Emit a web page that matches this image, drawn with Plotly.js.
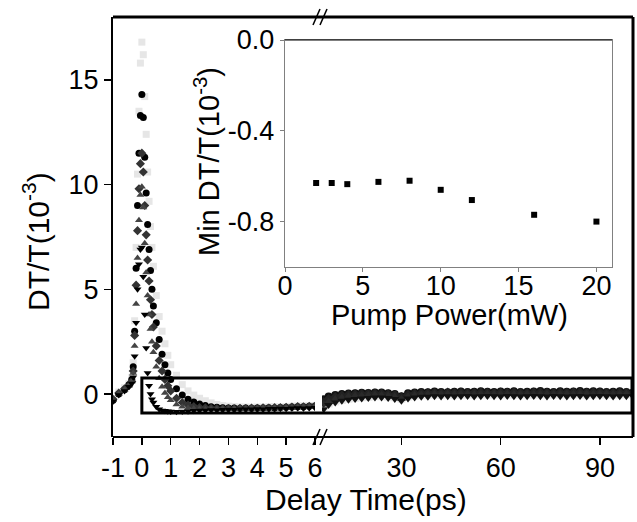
<!DOCTYPE html>
<html><head><meta charset="utf-8">
<script src="https://cdn.plot.ly/plotly-3.0.1.min.js"></script>
<style>html,body{margin:0;padding:0;background:#fff}#chart{width:637px;height:522px}</style>
</head><body><div id="chart"></div>
<script>
// ---- main plot, segment 1 (delay -1 .. 6 ps) ----
const t1 = [-1, -0.8, -0.6, -0.45, -0.35, -0.3, -0.25, -0.2, -0.15, -0.1, -0.05, 0, 0.05, 0.1, 0.15, 0.2, 0.25, 0.3, 0.35, 0.4, 0.5, 0.6, 0.7, 0.8, 0.9, 1.0,
  1.2, 1.4, 1.6, 1.8, 2.0, 2.2, 2.4, 2.6, 2.8, 3.0, 3.2, 3.4, 3.6, 3.8, 4.0, 4.2, 4.4, 4.6, 4.8, 5.0, 5.2, 5.4, 5.6, 5.8, 6.0];
const s1a = [-0.2, 0.1, 0.3, 0.5, 0.8, 1.5, 3.5, 7.0, 10.5, 13.5, 15.8, 16.8, 16.2, 14.2, 12.4, 10.6, 9.2, 8.0, 7.0, 6.1, 4.7, 3.7, 3.0, 2.4, 1.85, 1.4,
  0.9, 0.45, 0.15, -0.05, -0.2, -0.32, -0.42, -0.5, -0.55, -0.58, -0.6, -0.62, -0.62, -0.63, -0.62, -0.63, -0.61, -0.6, -0.62, -0.6, -0.58, -0.57, -0.56, -0.55, -0.55];
const s2a = [-0.3, 0.0, 0.2, 0.45, 0.7, 1.3, 3.0, 6.0, 9.0, 11.5, 13.3, 14.3, 13.2, 11.3, 9.6, 8.1, 6.9, 5.9, 5.0, 4.2, 3.4, 2.6, 1.9, 1.4, 1.0, 0.7,
  0.25, -0.05, -0.25, -0.38, -0.48, -0.55, -0.6, -0.63, -0.65, -0.66, -0.67, -0.68, -0.67, -0.68, -0.66, -0.67, -0.65, -0.66, -0.64, -0.63, -0.62, -0.6, -0.6, -0.58, -0.57];
const s3a = [-0.25, 0.05, 0.25, 0.4, 0.6, 1.1, 2.8, 5.2, 7.8, 9.8, 11.0, 11.5, 10.6, 9.0, 7.6, 6.4, 5.4, 4.5, 3.8, 3.2, 2.3, 1.6, 1.1, 0.7, 0.4, 0.15,
  -0.2, -0.4, -0.52, -0.6, -0.64, -0.66, -0.68, -0.69, -0.7, -0.69, -0.7, -0.68, -0.69, -0.67, -0.68, -0.66, -0.67, -0.65, -0.64, -0.63, -0.62, -0.6, -0.61, -0.59, -0.58];
const s4a = [-0.3, 0.0, 0.2, 0.4, 0.6, 1.0, 2.3, 4.3, 6.5, 8.3, 9.5, 9.9, 8.9, 7.2, 5.8, 4.7, 3.8, 3.1, 2.5, 2.0, 1.3, 0.75, 0.35, 0.05, -0.15, -0.3,
  -0.5, -0.6, -0.66, -0.69, -0.7, -0.72, -0.71, -0.72, -0.7, -0.71, -0.7, -0.69, -0.7, -0.68, -0.69, -0.67, -0.68, -0.66, -0.67, -0.65, -0.64, -0.63, -0.62, -0.62, -0.6];
const s5a = [-0.35, -0.05, 0.15, 0.35, 0.5, 0.8, 1.8, 3.4, 5.0, 6.2, 6.9, 7.0, 5.6, 3.8, 2.2, 1.0, 0.4, 0.0, -0.25, -0.4, -0.6, -0.72, -0.78, -0.8, -0.82, -0.83,
  -0.84, -0.83, -0.82, -0.8, -0.79, -0.78, -0.76, -0.77, -0.75, -0.74, -0.75, -0.73, -0.72, -0.73, -0.71, -0.72, -0.7, -0.7, -0.69, -0.7, -0.68, -0.67, -0.68, -0.66, -0.65];

// ---- main plot, segment 2 (delay 6 .. 100 ps) ----
const t2 = [6.5, 8, 10, 12, 14, 16, 18, 20, 22, 24, 26, 28, 30, 32, 34, 36, 38, 40, 42, 44, 46, 48, 50, 52,
  54, 56, 58, 60, 62, 64, 66, 68, 70, 72, 74, 76, 78, 80, 82, 84, 86, 88, 90, 92, 94, 96, 98, 100];
const s1b = [-0.6, -0.45, -0.35, -0.28, -0.22, -0.18, -0.15, -0.13, -0.1, -0.1, -0.12, -0.15, -0.22, -0.12, -0.08, -0.05,
  -0.05, -0.03, -0.04, -0.02, -0.03, -0.02, -0.03, -0.02, -0.01, -0.03, -0.02, -0.01, -0.02, -0.03, -0.01, -0.02,
  -0.03, -0.01, -0.02, -0.03, -0.01, -0.02, -0.02, -0.01, -0.03, -0.02, -0.01, -0.02, -0.03, -0.02, -0.01, -0.02];
const s2b = [-0.25, -0.12, -0.04, 0.0, 0.03, 0.04, 0.06, 0.05, 0.08, 0.07, 0.04, 0.0, -0.1, 0.04, 0.08, 0.1,
  0.09, 0.12, 0.1, 0.09, 0.11, 0.12, 0.1, 0.11, 0.13, 0.11, 0.1, 0.12, 0.11, 0.13, 0.1, 0.11,
  0.12, 0.14, 0.11, 0.1, 0.13, 0.11, 0.12, 0.14, 0.11, 0.13, 0.12, 0.1, 0.11, 0.13, 0.1, 0.08];
const s3b = [-0.4, -0.25, -0.15, -0.08, -0.04, -0.02, -0.01, 0.0, 0.02, 0.01, -0.02, -0.06, -0.16, -0.04, 0.0, 0.03,
  0.04, 0.05, 0.04, 0.06, 0.05, 0.06, 0.04, 0.05, 0.06, 0.05, 0.04, 0.06, 0.05, 0.07, 0.05, 0.04,
  0.06, 0.07, 0.05, 0.04, 0.06, 0.05, 0.06, 0.07, 0.05, 0.06, 0.07, 0.05, 0.04, 0.06, 0.05, 0.04];
const s4b = [-0.5, -0.35, -0.24, -0.16, -0.11, -0.08, -0.07, -0.05, -0.03, -0.04, -0.07, -0.12, -0.22, -0.1, -0.04, -0.02,
  0.0, 0.01, 0.0, 0.02, 0.0, 0.01, 0.02, 0.0, 0.01, 0.02, 0.0, 0.01, 0.02, 0.0, 0.02, 0.01,
  0.0, 0.02, 0.01, 0.0, 0.02, 0.01, 0.0, 0.02, 0.01, 0.0, 0.02, 0.01, 0.0, 0.02, 0.01, 0.0];
const s5b = [-0.72, -0.52, -0.4, -0.32, -0.27, -0.23, -0.21, -0.19, -0.16, -0.16, -0.19, -0.24, -0.32, -0.21, -0.16, -0.13,
  -0.13, -0.11, -0.12, -0.1, -0.12, -0.1, -0.09, -0.12, -0.1, -0.09, -0.11, -0.12, -0.09, -0.1, -0.12, -0.1,
  -0.09, -0.1, -0.12, -0.09, -0.1, -0.12, -0.1, -0.09, -0.12, -0.1, -0.09, -0.1, -0.12, -0.1, -0.11, -0.1];

// ---- inset ----
const power = [2, 3, 4, 6, 8, 10, 12, 16, 20];
const minDT = [-0.63, -0.63, -0.635, -0.625, -0.62, -0.66, -0.705, -0.77, -0.80];

// tick labels
const xTick1 = [-1, 0, 1, 2, 3, 4, 5, 6];
const xTickText1 = ['-1', '0', '1', '2', '3', '4', '5', '6'];
const xTick2 = [30, 60, 90];
const yTick = [0, 5, 10, 15];
const insetXTick = [0, 5, 10, 15, 20];
const insetYTick = [0, -0.4, -0.8];
const insetYTickText = ['0.0', '-0.4', '-0.8'];

const styles = [
  {symbol: 'square', color: '#e6e6e6', size: 7},
  {symbol: 'circle', color: '#000000', size: 7},
  {symbol: 'diamond', color: '#333333', size: 7},
  {symbol: 'triangle-up', color: '#444444', size: 7},
  {symbol: 'triangle-down', color: '#000000', size: 7}
];
const segB_colors = ['#e6e6e6', '#111111', '#222222', '#2a2a2a', '#111111'];
const segA = [s1a, s2a, s3a, s4a, s5a];
const segB = [s1b, s2b, s3b, s4b, s5b];

const traces = [];
segA.forEach((ys, i) => traces.push({x: t1, y: ys, xaxis: 'x', yaxis: 'y', type: 'scatter', mode: 'markers',
  marker: {symbol: styles[i].symbol, color: styles[i].color, size: styles[i].size}, showlegend: false, hoverinfo: 'skip'}));
segB.forEach((ys, i) => traces.push({x: t2, y: ys, xaxis: 'x2', yaxis: 'y', type: 'scatter', mode: 'markers',
  marker: {symbol: styles[i].symbol, color: segB_colors[i], size: 8}, showlegend: false, hoverinfo: 'skip'}));
traces.push({x: power, y: minDT, xaxis: 'x3', yaxis: 'y3', type: 'scatter', mode: 'markers',
  marker: {symbol: 'square', color: '#000', size: 6}, showlegend: false, hoverinfo: 'skip'});

// geometry helpers (plot area: 113..633 px wide, 17..437 px tall)
const L = 113, T = 17, W = 520, H = 420;
const px = v => (v - L) / W;
const py = v => (T + H - v) / H;
const dom1 = [0, px(315)], dom2 = [px(322), 1];
const range1 = [-1, 6];
const t0paper = dom1[0] + (0 - range1[0]) / (range1[1] - range1[0]) * (dom1[1] - dom1[0]);

const FONT = '"Liberation Sans", Arial, sans-serif';
const shapes = [
  {type: 'line', xref: 'paper', yref: 'paper', x0: 0, x1: 1, y0: 0, y1: 0, line: {color: '#000', width: 2}},
  {type: 'line', xref: 'paper', yref: 'paper', x0: 0, x1: 1, y0: 1, y1: 1, line: {color: '#000', width: 3}},
  {type: 'line', xref: 'paper', yref: 'paper', x0: 1, x1: 1, y0: 0, y1: 1, line: {color: '#000', width: 3}},
  {type: 'line', xref: 'paper', yref: 'paper', x0: px(313), x1: px(320), y0: py(445), y1: py(429), line: {color: '#000', width: 1.5}},
  {type: 'line', xref: 'paper', yref: 'paper', x0: px(320), x1: px(327), y0: py(445), y1: py(429), line: {color: '#000', width: 1.5}},
  {type: 'line', xref: 'paper', yref: 'paper', x0: px(313), x1: px(320), y0: py(25), y1: py(9), line: {color: '#000', width: 1.5}},
  {type: 'line', xref: 'paper', yref: 'paper', x0: px(320), x1: px(327), y0: py(25), y1: py(9), line: {color: '#000', width: 1.5}},
  {type: 'rect', xref: 'paper', yref: 'y', x0: t0paper, x1: px(632), y0: -0.9, y1: 0.77, line: {color: '#000', width: 3}},
  {type: 'line', xref: 'paper', yref: 'paper', x0: px(285), x1: px(612), y0: py(40), y1: py(40), line: {color: '#000', width: 1.2}}
];

const annotations = [
  {text: 'Delay Time(ps)', xref: 'paper', yref: 'paper', x: px(366), y: py(500), xanchor: 'center', yanchor: 'middle', showarrow: false,
    font: {family: FONT, size: 30, color: '#000'}},
  {text: 'DT/T(10<sup>-3</sup>)', xref: 'paper', yref: 'paper', x: px(36), y: py(242), xanchor: 'center', yanchor: 'middle', showarrow: false, textangle: -90,
    font: {family: FONT, size: 30, color: '#000'}},
  {text: 'Pump Power(mW)', xref: 'paper', yref: 'paper', x: px(449), y: py(315), xanchor: 'center', yanchor: 'middle', showarrow: false,
    font: {family: FONT, size: 29, color: '#000'}},
  {text: 'Min DT/T(10<sup>-3</sup>)', xref: 'paper', yref: 'paper', x: px(207), y: py(162), xanchor: 'center', yanchor: 'middle', showarrow: false, textangle: -90,
    font: {family: FONT, size: 29, color: '#000'}}
];

const layout = {
  width: 637, height: 522,
  margin: {l: L, r: 637 - L - W, t: T, b: 522 - T - H, pad: 0},
  paper_bgcolor: '#fff', plot_bgcolor: 'rgba(0,0,0,0)',
  font: {family: FONT, size: 27, color: '#000'},
  showlegend: false,
  xaxis: {domain: dom1, range: range1, anchor: 'y', showgrid: false, zeroline: false, showline: false,
    ticks: 'outside', ticklen: 7, tickwidth: 1.5, tickcolor: '#000', tickvals: xTick1, ticktext: xTickText1,
    tickfont: {family: FONT, size: 27}},
  xaxis2: {domain: dom2, range: [6, 100], anchor: 'y', showgrid: false, zeroline: false, showline: false,
    ticks: 'outside', ticklen: 7, tickwidth: 1.5, tickcolor: '#000', tickvals: xTick2,
    tickfont: {family: FONT, size: 27}},
  yaxis: {domain: [0, 1], range: [-2.05, 18], anchor: 'x', showgrid: false, zeroline: false, showline: true, linewidth: 2, linecolor: '#000',
    ticks: 'outside', ticklen: 7, tickwidth: 1.5, tickcolor: '#000', tickvals: yTick,
    tickfont: {family: FONT, size: 27}},
  xaxis3: {domain: [px(285), px(612)], range: [0, 21], anchor: 'y3', showgrid: false, zeroline: false,
    showline: true, linecolor: '#808080', linewidth: 1.2, mirror: true,
    ticks: 'outside', ticklen: 4, tickcolor: '#808080', tickvals: insetXTick, ticklabelstandoff: -10,
    tickfont: {family: FONT, size: 27}},
  yaxis3: {domain: [py(267), py(40)], range: [-1.0, 0], anchor: 'x3', showgrid: false, zeroline: false,
    showline: true, linecolor: '#808080', linewidth: 1.2, mirror: true,
    ticks: 'outside', ticklen: 4, tickcolor: '#808080', tickvals: insetYTick, ticktext: insetYTickText,
    tickfont: {family: FONT, size: 27}},
  shapes: shapes,
  annotations: annotations
};

Plotly.newPlot('chart', traces, layout, {staticPlot: true, displayModeBar: false});
</script></body></html>
